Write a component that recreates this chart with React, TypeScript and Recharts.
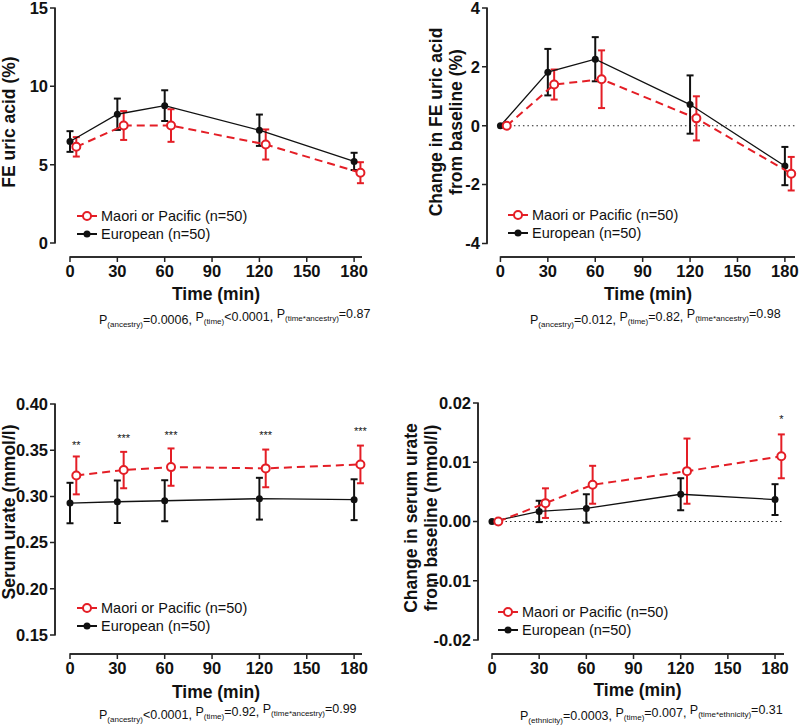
import React from 'react';
import { ComposedChart, Scatter, XAxis, YAxis, ErrorBar, ReferenceLine, Legend } from 'recharts';

const times = [0, 30, 60, 120, 180];
const xTicks = [0, 30, 60, 90, 120, 150, 180];
const seriesNames = ['Maori or Pacific (n=50)', 'European (n=50)'];

// FE uric acid (%)
const feEuro = [6.48, 8.22, 8.77, 7.2, 5.21];
const feEuroSem = [0.66, 1.0, 0.98, 1.0, 0.55];
const fePac = [6.14, 7.5, 7.5, 6.29, 4.49];
const fePacSem = [0.62, 0.92, 1.04, 0.96, 0.67];

// change in FE uric acid from baseline (%)
const dFeEuro = [0, 1.82, 2.26, 0.72, -1.37];
const dFeEuroSem = [0, 0.79, 0.75, 0.99, 0.65];
const dFePac = [0, 1.4, 1.58, 0.25, -1.63];
const dFePacSem = [0, 0.51, 0.98, 0.75, 0.57];

// serum urate (mmol/l)
const suEuro = [0.2928, 0.2942, 0.2953, 0.2975, 0.2964];
const suEuroSem = [0.0219, 0.023, 0.0222, 0.0226, 0.0221];
const suPac = [0.3227, 0.3285, 0.3317, 0.3303, 0.3346];
const suPacSem = [0.0205, 0.0197, 0.0202, 0.0204, 0.0204];
const suStars = ['**', '***', '***', '***', '***'];
const suStarY = [0.3588, 0.366, 0.3696, 0.3696, 0.3732];

// change in serum urate from baseline (mmol/l)
const dSuEuro = [0, 0.0017, 0.0022, 0.0046, 0.0037];
const dSuEuroSem = [0, 0.0018, 0.0024, 0.0027, 0.0026];
const dSuPac = [0, 0.0031, 0.0062, 0.0085, 0.011];
const dSuPacSem = [0, 0.0025, 0.0032, 0.0055, 0.0037];
const dSuStars = ['', '', '', '', '*'];
const dSuStarY = [0, 0, 0, 0, 0.0177];

const pFe = [['(ancestry)', '=0.0006, '], ['(time)', '<0.0001, '], ['(time*ancestry)', '=0.87']];
const pDFe = [['(ancestry)', '=0.012, '], ['(time)', '=0.82, '], ['(time*ancestry)', '=0.98']];
const pSu = [['(ancestry)', '<0.0001, '], ['(time)', '=0.92, '], ['(time*ancestry)', '=0.99']];
const pDSu = [['(ethnicity)', '=0.0003, '], ['(time)', '=0.007, '], ['(time*ethnicity)', '=0.31']];

const RED = '#e41e26';
const BLACK = '#111';
const AXIS = '#222';
const FONT = '"Liberation Sans", Arial, sans-serif';
const SHIFT = 4; // red series drawn slightly right of the nominal time
const PAD = 6; // px of plot area kept left of / below the drawn axis lines
const TICK = 5; // tick mark length, px
const X_AXIS_H = 30;

const pts = (mean: number[], sem: number[], shift: number) =>
  times.map((t, i) => ({ x: t + shift, y: mean[i], err: sem[i] }));

const starPts = (labels: string[], ys: number[]) =>
  times
    .map((t, i) => ({ x: t + SHIFT, y: ys[i], s: labels[i] }))
    .filter((d) => d.s !== '');

interface PanelProps {
  left: number;
  top: number;
  width: number;
  height: number;
  margin: { top: number; right: number; bottom: number; left: number };
  yAxisWidth: number;
  xDomain: [number, number]; // [value at y axis line, right end]
  yDomain: [number, number]; // [value at x axis line, top]
  yTicks: number[];
  fmt: (v: number) => string;
  euro: { x: number; y: number; err: number }[];
  pac: { x: number; y: number; err: number }[];
  stars?: { x: number; y: number; s: string }[];
  zeroLine?: boolean;
  yLabel: string[];
  yLabelX: number[];
  yLabelY: number;
  timeX: number;
  timeY: number;
  pText: string[][];
  pX: number;
  pY: number;
  legendX: number;
  legendY: number;
}

const LegendBox = () => (
  <div style={{ fontFamily: FONT, fontSize: 14.5, color: BLACK, lineHeight: '18px' }}>
    {seriesNames.map((n, i) => (
      <div key={n} style={{ display: 'flex', alignItems: 'center', height: 18 }}>
        <svg width={24} height={18}>
          <line x1={0} x2={20} y1={9} y2={9} stroke={i === 0 ? RED : BLACK} strokeWidth={2} />
          {i === 0 ? (
            <circle cx={10} cy={9} r={4} fill="#fff" stroke={RED} strokeWidth={2} />
          ) : (
            <circle cx={10} cy={9} r={3.5} fill={BLACK} />
          )}
        </svg>
        <span>{n}</span>
      </div>
    ))}
  </div>
);

const Panel: React.FC<PanelProps> = (p) => {
  const [xA, xMax] = p.xDomain;
  const [yA, yMax] = p.yDomain;
  const plotW = p.width - p.yAxisWidth - p.margin.left - p.margin.right;
  const plotH = p.height - p.margin.top - p.margin.bottom - X_AXIS_H;
  const kx = plotW / (xMax - xA);
  const ky = plotH / (yMax - yA);
  const xDom: [number, number] = [xA - PAD / kx, xMax];
  const yDom: [number, number] = [yA - PAD / ky, yMax];
  const margin = { ...p.margin, bottom: p.margin.bottom - PAD };
  const dx = TICK / kx;
  const dy = TICK / ky;

  // axis "combs": the axis line with its tick marks, as one polyline each
  const yComb: { x: number; y: number }[] = [];
  p.yTicks.forEach((t) => {
    yComb.push({ x: xA, y: t }, { x: xA - dx, y: t }, { x: xA, y: t });
  });
  const xComb: { x: number; y: number }[] = [];
  xTicks.forEach((t) => {
    xComb.push({ x: t, y: yA }, { x: t, y: yA - dy }, { x: t, y: yA });
  });
  xComb.push({ x: xMax, y: yA });

  const tickStyle = { fontSize: 16.5, fontWeight: 'bold', fill: BLACK };
  const dotless = (s: any) => <circle cx={s.cx} cy={s.cy} r={0} fill="none" />;
  const solid = '4000 1';
  return (
    <div style={{ position: 'absolute', left: p.left, top: p.top, fontFamily: FONT }}>
      <ComposedChart width={p.width} height={p.height} margin={margin}>
        <XAxis
          type="number"
          dataKey="x"
          domain={xDom}
          ticks={xTicks}
          interval={0}
          axisLine={false}
          tickLine={false}
          tickSize={0}
          tickMargin={2}
          tick={tickStyle}
          height={X_AXIS_H}
        />
        <YAxis
          type="number"
          dataKey="y"
          domain={yDom}
          ticks={p.yTicks}
          interval={0}
          width={p.yAxisWidth - PAD}
          axisLine={false}
          tickLine={false}
          tickSize={0}
          tickMargin={1}
          tickFormatter={p.fmt}
          tick={tickStyle}
        />
        {p.zeroLine && (
          <ReferenceLine
            segment={[{ x: 0, y: 0 }, { x: xMax, y: 0 }]}
            stroke={AXIS}
            strokeWidth={1.2}
            strokeDasharray="1.5 3"
            ifOverflow="visible"
          />
        )}
        <Scatter
          name={seriesNames[1]}
          data={p.euro}
          isAnimationActive={false}
          line={{ stroke: BLACK, strokeWidth: 1.3 }}
          lineType="joint"
          fill={BLACK}
          shape={(s: any) => <circle cx={s.cx} cy={s.cy} r={3.5} fill={BLACK} />}
        >
          <ErrorBar dataKey="err" direction="y" width={3.5} stroke={BLACK} strokeWidth={2} isAnimationActive={false} />
        </Scatter>
        <Scatter
          name={seriesNames[0]}
          data={p.pac}
          isAnimationActive={false}
          line={{ stroke: RED, strokeWidth: 2, strokeDasharray: '8 5' }}
          lineType="joint"
          fill={RED}
          shape={(s: any) => <circle cx={s.cx} cy={s.cy} r={4} fill="#fff" stroke={RED} strokeWidth={2} />}
        >
          <ErrorBar dataKey="err" direction="y" width={3.5} stroke={RED} strokeWidth={2} isAnimationActive={false} />
        </Scatter>
        {p.stars && (
          <Scatter
            name="stars"
            data={p.stars}
            isAnimationActive={false}
            shape={(s: any) => (
              <text x={s.cx} y={s.cy + 6.5} textAnchor="middle" fontSize={11} fill={BLACK}>
                {s.payload.s}
              </text>
            )}
          />
        )}
        {/* axis lines with tick marks */}
        <Scatter
          name="y axis"
          data={yComb}
          isAnimationActive={false}
          line={{ stroke: AXIS, strokeWidth: 1.5, strokeDasharray: solid }}
          lineType="joint"
          fill={AXIS}
          shape={dotless}
        />
        <Scatter
          name="x axis"
          data={xComb}
          isAnimationActive={false}
          line={{ stroke: AXIS, strokeWidth: 1.5, strokeDasharray: solid }}
          lineType="joint"
          fill={AXIS}
          shape={dotless}
        />
        <ReferenceLine
          segment={[{ x: xA, y: p.yTicks[0] }, { x: xA, y: p.yTicks[p.yTicks.length - 1] }]}
          stroke={AXIS}
          strokeWidth={1.5}
          strokeDasharray={solid}
          ifOverflow="visible"
        />
        <ReferenceLine
          segment={[{ x: 0, y: yA }, { x: xMax, y: yA }]}
          stroke={AXIS}
          strokeWidth={1.5}
          strokeDasharray={solid}
          ifOverflow="visible"
        />
        <Legend
          layout="horizontal"
          verticalAlign="middle"
          align="center"
          content={() => <LegendBox />}
          wrapperStyle={{ left: p.legendX, top: p.legendY, width: 'auto', height: 'auto' }}
        />
      </ComposedChart>
      <svg
        width={p.width}
        height={p.height}
        style={{ position: 'absolute', left: 0, top: 0, pointerEvents: 'none' }}
      >
        {p.yLabel.map((s, i) => (
          <text
            key={s}
            x={p.yLabelX[i]}
            y={p.yLabelY}
            transform={`rotate(-90, ${p.yLabelX[i]}, ${p.yLabelY})`}
            textAnchor="middle"
            fontSize={17.5}
            fontWeight="bold"
            fill={BLACK}
          >
            {s}
          </text>
        ))}
        <text x={p.timeX} y={p.timeY} textAnchor="middle" fontSize={17.5} fontWeight="bold" fill={BLACK}>
          Time (min)
        </text>
        <text x={p.pX} y={p.pY} fontSize={12.5} fill={BLACK}>
          {p.pText.map(([sub, rest], i) => (
            <React.Fragment key={i}>
              <tspan dy={i === 0 ? 0 : -3}>P</tspan>
              <tspan fontSize={8} dy={3}>{sub}</tspan>
              <tspan fontSize={12.5} dy={-3}>{rest}</tspan>
              <tspan dy={3}>{''}</tspan>
            </React.Fragment>
          ))}
        </text>
      </svg>
    </div>
  );
};

const App: React.FC = () => {
  return (
    <div style={{ position: 'absolute', left: 0, top: 0, width: 800, height: 727, background: '#fff', fontFamily: FONT }}>
      <Panel
        left={0}
        top={0}
        width={400}
        height={360}
        margin={{ top: 8, right: 38, bottom: 73, left: 0 }}
        yAxisWidth={55}
        xDomain={[-9.5, 185]}
        yDomain={[-0.89, 15]}
        yTicks={[0, 5, 10, 15]}
        fmt={(v) => String(v)}
        euro={pts(feEuro, feEuroSem, 0)}
        pac={pts(fePac, fePacSem, SHIFT)}
        yLabel={['FE uric acid (%)']}
        yLabelX={[15]}
        yLabelY={122}
        timeX={216}
        timeY={300}
        pText={pFe}
        pX={99}
        pY={324}
        legendX={77}
        legendY={207}
      />
      <Panel
        left={400}
        top={0}
        width={400}
        height={360}
        margin={{ top: 8, right: 5, bottom: 73, left: 0 }}
        yAxisWidth={87}
        xDomain={[-8.5, 186.4]}
        yDomain={[-4.46, 4]}
        yTicks={[-4, -2, 0, 2, 4]}
        fmt={(v) => String(v)}
        euro={pts(dFeEuro, dFeEuroSem, 0)}
        pac={pts(dFePac, dFePacSem, SHIFT)}
        zeroLine
        yLabel={['Change in FE uric acid', 'from baseline (%)']}
        yLabelX={[42, 62]}
        yLabelY={122}
        timeX={248}
        timeY={300}
        pText={pDFe}
        pX={130}
        pY={324}
        legendX={108}
        legendY={206}
      />
      <Panel
        left={0}
        top={360}
        width={400}
        height={367}
        margin={{ top: 44, right: 38, bottom: 43, left: 0 }}
        yAxisWidth={55}
        xDomain={[-9.5, 185]}
        yDomain={[0.1294, 0.4]}
        yTicks={[0.15, 0.2, 0.25, 0.3, 0.35, 0.4]}
        fmt={(v) => v.toFixed(2)}
        euro={pts(suEuro, suEuroSem, 0)}
        pac={pts(suPac, suPacSem, SHIFT)}
        stars={starPts(suStars, suStarY)}
        yLabel={['Serum urate (mmol/l)']}
        yLabelX={[15]}
        yLabelY={152}
        timeX={216}
        timeY={338}
        pText={pSu}
        pX={99}
        pY={359}
        legendX={77}
        legendY={239}
      />
      <Panel
        left={400}
        top={360}
        width={400}
        height={367}
        margin={{ top: 43, right: 16, bottom: 43, left: 0 }}
        yAxisWidth={78}
        xDomain={[-8.9, 185.7]}
        yDomain={[-0.02236, 0.02]}
        yTicks={[-0.02, -0.01, 0, 0.01, 0.02]}
        fmt={(v) => v.toFixed(2)}
        euro={pts(dSuEuro, dSuEuroSem, 0)}
        pac={pts(dSuPac, dSuPacSem, SHIFT)}
        stars={starPts(dSuStars, dSuStarY)}
        zeroLine
        yLabel={['Change in serum urate', 'from baseline (mmol/l)']}
        yLabelX={[17, 37]}
        yLabelY={158}
        timeX={237.5}
        timeY={336}
        pText={pDSu}
        pX={120}
        pY={360}
        legendX={98}
        legendY={243}
      />
    </div>
  );
};

export default App;
